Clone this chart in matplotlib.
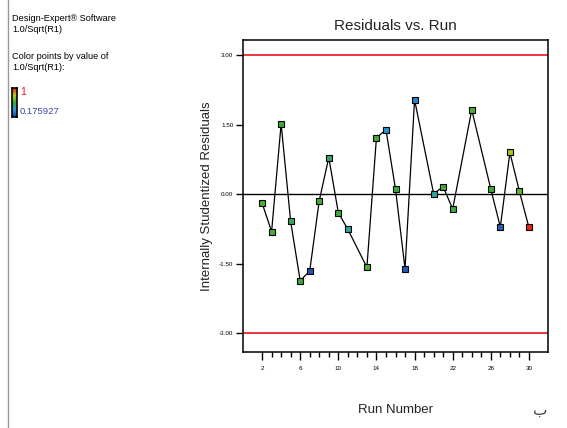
import matplotlib
matplotlib.use("Agg")
import matplotlib.pyplot as plt
import numpy as np
from matplotlib.colors import LinearSegmentedColormap, Normalize
from matplotlib.lines import Line2D
from matplotlib.ticker import FixedLocator

plt.rcParams["font.family"] = ["Liberation Sans", "DejaVu Sans"]

# data
runs = [2, 3, 4, 5, 6, 7, 8, 9, 10, 11, 13, 14, 15, 16, 17, 18, 20, 21, 22, 24, 26, 27, 28, 29, 30]
residuals = [-0.19, -0.81, 1.52, -0.59, -1.87, -1.66, -0.14, 0.79, -0.40, -0.76,
             -1.58, 1.22, 1.39, 0.11, -1.61, 2.04, 0.01, 0.16, -0.32, 1.82,
             0.11, -0.71, 0.90, 0.06, -0.72]
# value of 1.0/Sqrt(R1) used to colour each point
color_values = [0.62, 0.61, 0.58, 0.55, 0.58, 0.22, 0.60, 0.52, 0.58, 0.44,
                0.62, 0.60, 0.36, 0.58, 0.24, 0.33, 0.46, 0.60, 0.56, 0.62,
                0.58, 0.25, 0.76, 0.64, 1.0]
cmin, cmax = 0.175927, 1.0
limit = 3.0
y_ticks = [-3.0, -1.5, 0.0, 1.5, 3.0]

cmap = LinearSegmentedColormap.from_list(
    "de", ["#1c3fa8", "#2a9fd8", "#3daa35", "#b5cc18", "#e8221b"])
norm = Normalize(cmin, cmax)

fig = plt.figure(figsize=(5.67, 4.28), dpi=100)
ax = fig.add_axes([243 / 567, 1 - 352 / 428, 305 / 567, 312 / 428])

ax.axhline(limit, color="#e8141c", lw=1.2, zorder=1)
ax.axhline(-limit, color="#e8141c", lw=1.2, zorder=1)
ax.axhline(0, color="black", lw=1.0, zorder=1)
ax.plot(runs, residuals, color="black", lw=0.9, zorder=2)
for r, v, c in zip(runs, residuals, color_values):
    ax.plot(r, v, marker="s", ms=4.5, mec="black", mew=0.8,
            mfc=cmap(norm(c)), zorder=3)

ax.set_xlim(0, 32)
ax.set_ylim(-3.41, 3.33)
ax.xaxis.set_major_locator(FixedLocator(np.arange(2, 31, 4)))
ax.xaxis.set_minor_locator(FixedLocator(np.arange(2, 31, 1)))
ax.set_yticks(y_ticks)
ax.set_yticklabels([f"{t:.2f}" for t in y_ticks])
ax.tick_params(axis="x", which="major", length=6, width=1, labelsize=4.5, pad=4)
ax.tick_params(axis="x", which="minor", length=3.5, width=1)
ax.tick_params(axis="y", length=5, width=1, labelsize=4.5, pad=2)
for s in ax.spines.values():
    s.set_linewidth(1.1)

ax.set_title("Residuals vs. Run", fontsize=11, color="#222222", pad=7)
ax.set_ylabel("Internally Studentized Residuals", fontsize=9.5, color="#222222", labelpad=4)
fig.text(396 / 567, 1 - 410 / 428, "Run Number", fontsize=9.5, color="#222222",
         ha="center", va="center")

# left info panel
fig.add_artist(Line2D([8 / 567, 8 / 567], [0, 1], color="#999999", lw=1))
fig.text(12 / 567, 1 - 14 / 428, "Design-Expert\u00ae Software\n1.0/Sqrt(R1)",
         fontsize=6.6, va="top", linespacing=1.3)
fig.text(12 / 567, 1 - 52 / 428, "Color points by value of\n1.0/Sqrt(R1):",
         fontsize=6.6, va="top", linespacing=1.3)
cax = fig.add_axes([12 / 567, 1 - 117 / 428, 5 / 567, 29 / 428])
cax.imshow(np.linspace(1, 0, 100).reshape(-1, 1), aspect="auto", cmap=cmap)
cax.set_xticks([])
cax.set_yticks([])
for s in cax.spines.values():
    s.set_linewidth(1.2)
fig.text(20 / 567, 1 - 92 / 428, "1", color="#e8141c", fontsize=7.5, va="center")
fig.text(20 / 567, 1 - 111 / 428, "0.175927", color="#3a4aa8", fontsize=6.8, va="center")

fig.text(540 / 567, 1 - 410 / 428, "\u0628", fontsize=11, color="#444444",
         ha="center", va="center", family="DejaVu Sans")

fig.savefig("out.png", dpi=100)
